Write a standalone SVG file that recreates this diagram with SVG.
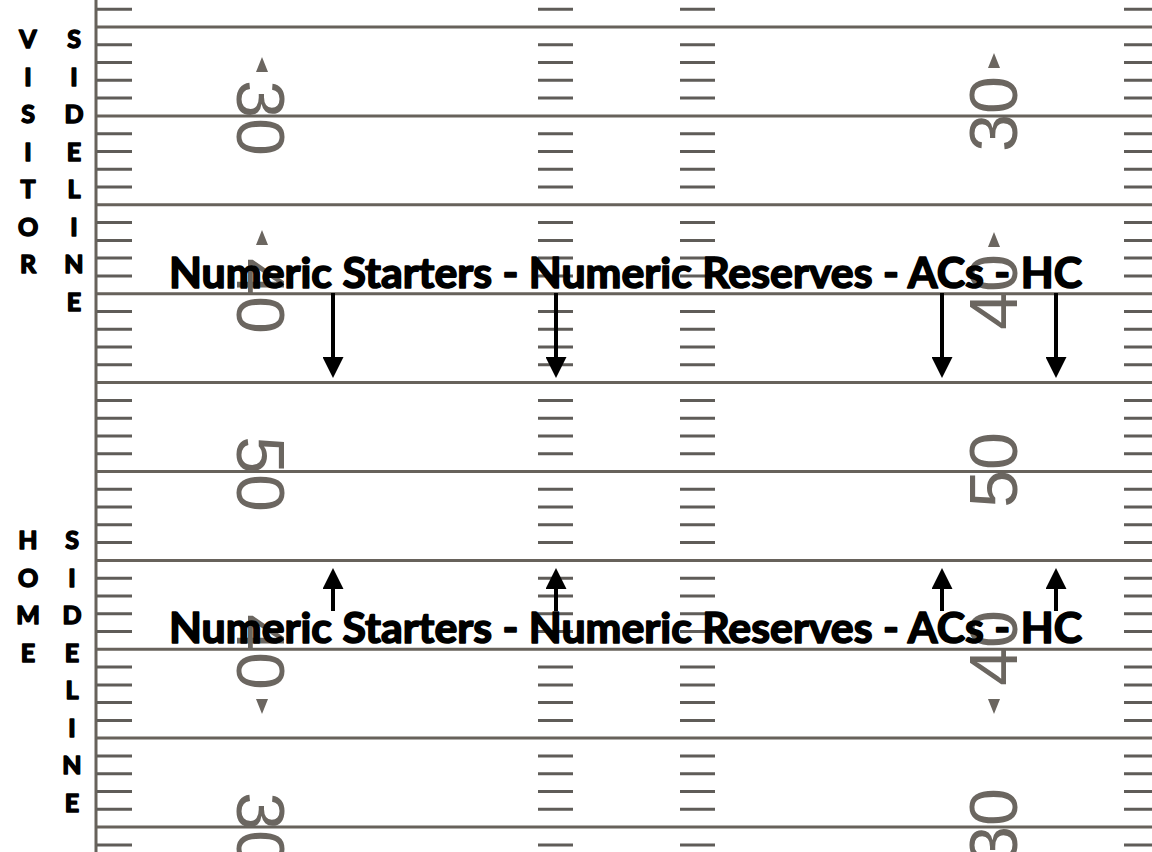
<svg xmlns="http://www.w3.org/2000/svg" xmlns:xlink="http://www.w3.org/1999/xlink" width="1152" height="852" viewBox="0 0 1152 852">
<style>
.yl{stroke:#67625b;stroke-width:3;fill:none}
.tk{stroke:#5f5c58;stroke-width:3;fill:none}
.num{font-family:"Liberation Sans",Arial,sans-serif;font-size:68px;fill:#6b6660;text-anchor:middle}
.tri{fill:#6b6660}
.lbl{font-family:Lato,"Open Sans",sans-serif;font-weight:bold;font-size:42px;fill:#000;stroke:#000;stroke-width:1.6;stroke-linejoin:round}
.side{font-family:Lato,"Open Sans",sans-serif;font-weight:bold;font-size:25px;fill:#000;stroke:#000;stroke-width:1.6;stroke-linejoin:round;text-anchor:middle}
.arr{stroke:#000;stroke-width:4;fill:none}
</style>
<defs>
<marker id="ah" markerUnits="userSpaceOnUse" markerWidth="21" markerHeight="21" viewBox="0 0 20 20" refX="1" refY="10" orient="auto">
<path d="M0,0 L20,10 L0,20 z" fill="#000"/>
</marker>
<path id="ticks" class="tk" d="M0 9.2h35M0 44.8h35M0 62.6h35M0 80.3h35M0 98.1h35M0 133.7h35M0 151.5h35M0 169.2h35M0 187h35M0 222.6h35M0 240.4h35M0 258.1h35M0 275.9h35M0 311.5h35M0 329.3h35M0 347h35M0 364.8h35M0 400.4h35M0 418.2h35M0 435.9h35M0 453.7h35M0 489.3h35M0 507.1h35M0 524.8h35M0 542.6h35M0 578.2h35M0 596h35M0 613.7h35M0 631.5h35M0 667.1h35M0 684.9h35M0 702.6h35M0 720.4h35M0 756h35M0 773.8h35M0 791.5h35M0 809.3h35M0 844.9h35"/>
</defs>
<rect width="1152" height="852" fill="#fff"/>

<g id="field">
<path class="yl" d="M96 0V852"/>
<path class="yl" d="M96 27H1152M96 115.9H1152M96 204.8H1152M96 293.7H1152M96 382.6H1152M96 471.5H1152M96 560.4H1152M96 649.2H1152M96 738.1H1152M96 827H1152"/>
<use href="#ticks" x="97"/>
<use href="#ticks" x="538"/>
<use href="#ticks" x="680"/>
<use href="#ticks" x="1124"/>
<g id="numbers-left">
<text class="num" transform="translate(237,118) rotate(90)">30</text>
<text class="num" transform="translate(237,296) rotate(90)">40</text>
<text class="num" transform="translate(237,474) rotate(90)">50</text>
<text class="num" transform="translate(237,652) rotate(90)">40</text>
<text class="num" transform="translate(237,830) rotate(90)">30</text>
<polygon class="tri" points="262,57 256,72 268,72"/>
<polygon class="tri" points="262,230 256,245 268,245"/>
<polygon class="tri" points="256,699 268,699 262,714"/>
</g>
<g id="numbers-right">
<text class="num" transform="translate(1017,114) rotate(-90)">30</text>
<text class="num" transform="translate(1017,292) rotate(-90)">40</text>
<text class="num" transform="translate(1017,470) rotate(-90)">50</text>
<text class="num" transform="translate(1017,648) rotate(-90)">40</text>
<text class="num" transform="translate(1017,826) rotate(-90)">30</text>
<polygon class="tri" points="994,53 988,68 1000,68"/>
<polygon class="tri" points="994,232 988,247 1000,247"/>
<polygon class="tri" points="988,699 1000,699 994,714"/>
</g>
</g>

<g id="label-visitor">
<text class="lbl" x="169" y="288" textLength="913" lengthAdjust="spacingAndGlyphs">Numeric Starters - Numeric Reserves - ACs - HC</text>
</g>
<g id="label-home">
<text class="lbl" x="169" y="643" textLength="913" lengthAdjust="spacingAndGlyphs">Numeric Starters - Numeric Reserves - ACs - HC</text>
</g>

<g id="visitor-sideline">
<text class="side" x="28" y="48">V</text>
<text class="side" x="28" y="85.5">I</text>
<text class="side" x="28" y="123">S</text>
<text class="side" x="28" y="160.5">I</text>
<text class="side" x="28" y="198">T</text>
<text class="side" x="28" y="235.5">O</text>
<text class="side" x="28" y="273">R</text>
<text class="side" x="74" y="48">S</text>
<text class="side" x="74" y="85.5">I</text>
<text class="side" x="74" y="123">D</text>
<text class="side" x="74" y="160.5">E</text>
<text class="side" x="74" y="198">L</text>
<text class="side" x="74" y="235.5">I</text>
<text class="side" x="74" y="273">N</text>
<text class="side" x="74" y="310.5">E</text>
</g>
<g id="home-sideline">
<text class="side" x="28" y="549">H</text>
<text class="side" x="28" y="586.5">O</text>
<text class="side" x="28" y="624">M</text>
<text class="side" x="28" y="661.5">E</text>
<text class="side" x="72" y="549">S</text>
<text class="side" x="72" y="586.5">I</text>
<text class="side" x="72" y="624">D</text>
<text class="side" x="72" y="661.5">E</text>
<text class="side" x="72" y="699">L</text>
<text class="side" x="72" y="736.5">I</text>
<text class="side" x="72" y="774">N</text>
<text class="side" x="72" y="811.5">E</text>
</g>

<g id="connectors">
<line class="arr" x1="333" y1="293" x2="333" y2="358" marker-end="url(#ah)"/>
<line class="arr" x1="556" y1="293" x2="556" y2="358" marker-end="url(#ah)"/>
<line class="arr" x1="942" y1="293" x2="942" y2="358" marker-end="url(#ah)"/>
<line class="arr" x1="1056" y1="293" x2="1056" y2="358" marker-end="url(#ah)"/>
<line class="arr" x1="333" y1="611" x2="333" y2="588" marker-end="url(#ah)"/>
<line class="arr" x1="556" y1="611" x2="556" y2="588" marker-end="url(#ah)"/>
<line class="arr" x1="942" y1="611" x2="942" y2="588" marker-end="url(#ah)"/>
<line class="arr" x1="1056" y1="611" x2="1056" y2="588" marker-end="url(#ah)"/>
</g>
</svg>
